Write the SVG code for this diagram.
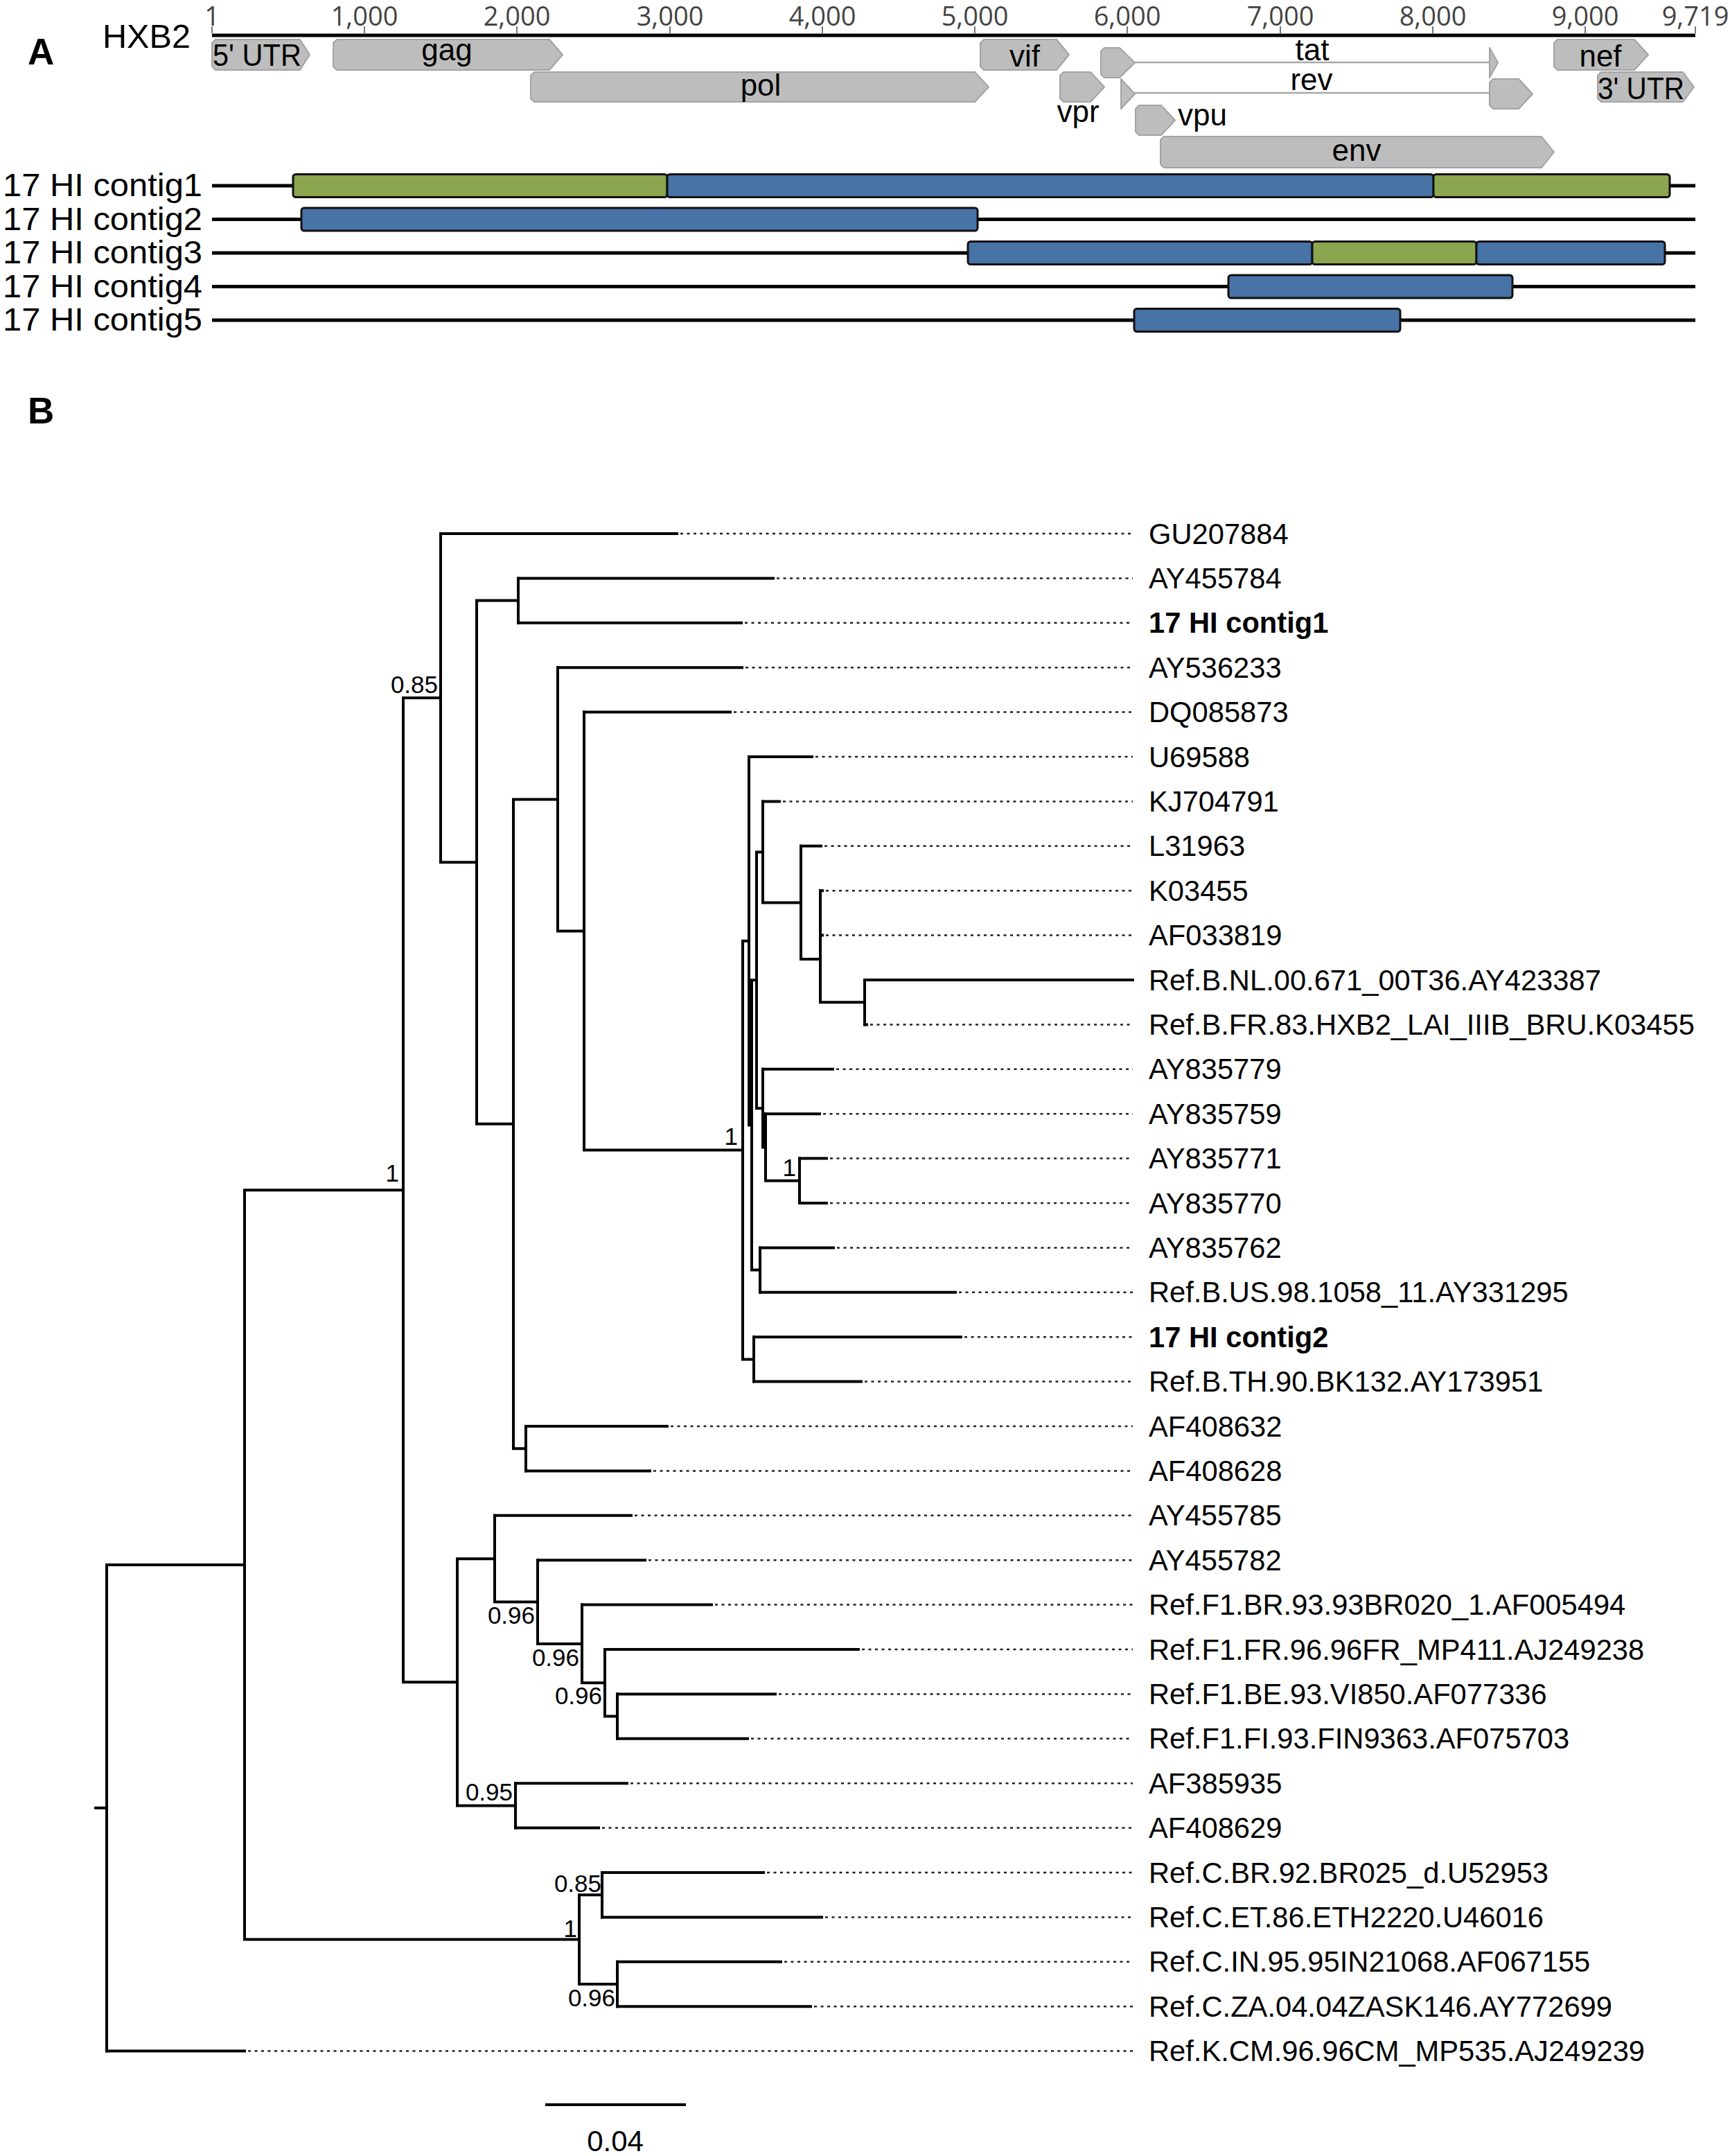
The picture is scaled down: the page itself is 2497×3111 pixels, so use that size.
<svg xmlns="http://www.w3.org/2000/svg" width="2497" height="3111" viewBox="0 0 2497 3111">
<style>
text{font-family:"Liberation Sans",Arial,sans-serif;fill:#000}
.panel{font-size:53px;font-weight:bold}
.tick{font-family:"Open Sans","Liberation Sans",sans-serif;font-size:38px;fill:#444;text-anchor:middle}
.tk{stroke:#777;stroke-width:2}
.gene{fill:#bdbdbd;stroke:#a3a3a3;stroke-width:2;stroke-linejoin:round}
.intron{stroke:#a8a8a8;stroke-width:2.5;fill:none}
.glab{font-size:44px;text-anchor:middle}
.cl{font-size:46px}
.track{stroke:#000;stroke-width:5}
.seg{stroke:#111;stroke-width:3}
.g{fill:#8ba64e}
.b{fill:#4773a6}
.br{stroke:#000;stroke-width:4;fill:none;stroke-linecap:square}
.dot{stroke:#222;stroke-width:2.5;stroke-dasharray:4 5.5;fill:none}
.leaf{font-size:41.7px}
.bold{font-weight:bold}
.sup{font-size:35px;text-anchor:end}
</style>

<text class="panel" x="40" y="93">A</text>
<text class="panel" x="40" y="611">B</text>

<!-- Panel A: HXB2 axis -->
<g id="hxb2-axis">
<text x="148" y="69" font-size="48" textLength="127" lengthAdjust="spacingAndGlyphs">HXB2</text>
<line class="track" x1="306" y1="51" x2="2447" y2="51"/>
<g class="tk">
<line x1="306" y1="38" x2="306" y2="48"/>
<line x1="526" y1="38" x2="526" y2="48"/>
<line x1="746" y1="38" x2="746" y2="48"/>
<line x1="967" y1="38" x2="967" y2="48"/>
<line x1="1187" y1="38" x2="1187" y2="48"/>
<line x1="1407" y1="38" x2="1407" y2="48"/>
<line x1="1627" y1="38" x2="1627" y2="48"/>
<line x1="1848" y1="38" x2="1848" y2="48"/>
<line x1="2068" y1="38" x2="2068" y2="48"/>
<line x1="2288" y1="38" x2="2288" y2="48"/>
<line x1="2447" y1="38" x2="2447" y2="48"/>
</g>
<text class="tick" x="306" y="37">1</text>
<text class="tick" x="526" y="37">1,000</text>
<text class="tick" x="746" y="37">2,000</text>
<text class="tick" x="967" y="37">3,000</text>
<text class="tick" x="1187" y="37">4,000</text>
<text class="tick" x="1407" y="37">5,000</text>
<text class="tick" x="1627" y="37">6,000</text>
<text class="tick" x="1848" y="37">7,000</text>
<text class="tick" x="2068" y="37">8,000</text>
<text class="tick" x="2288" y="37">9,000</text>
<text class="tick" x="2447" y="37">9,719</text>
</g>

<g id="gene-5utr"><polygon class="gene" points="311,57 433,57 447,79 433,101 311,101 306,96 306,62"/><text x="307" y="95" font-size="44" textLength="128" lengthAdjust="spacingAndGlyphs">5' UTR</text></g>
<g id="gene-gag"><polygon class="gene" points="486,57 793,57 812,79 793,101 486,101 481,96 481,62"/><text class="glab" x="645" y="87">gag</text></g>
<g id="gene-pol"><polygon class="gene" points="771,104 1407,104 1427,125.5 1407,147 771,147 766,142 766,109"/><text class="glab" x="1098" y="138">pol</text></g>
<g id="gene-vif"><polygon class="gene" points="1420,57 1525,57 1543,79 1525,101 1420,101 1415,96 1415,62"/><text class="glab" x="1479" y="96">vif</text></g>
<g id="gene-vpr"><polygon class="gene" points="1535,104 1574,104 1594,125.5 1574,147 1535,147 1530,142 1530,109"/><text class="glab" x="1556" y="176">vpr</text></g>
<g id="gene-tat"><line class="intron" x1="1638" y1="90" x2="2150" y2="90"/><polygon class="gene" points="1594,69 1616,69 1638,90.5 1616,112 1594,112 1589,107 1589,74"/><polygon class="gene" points="2150,69 2162,90.5 2150,112"/><text class="glab" x="1894" y="87">tat</text></g>
<g id="gene-rev"><line class="intron" x1="1638" y1="134" x2="2150" y2="134"/><polygon class="gene" points="1618,114 1638,135.5 1618,157"/><polygon class="gene" points="2155,114 2192,114 2212,135.5 2192,157 2155,157 2150,152 2150,119"/><text class="glab" x="1893" y="130">rev</text></g>
<g id="gene-vpu"><polygon class="gene" points="1644,152 1676,152 1696,173.5 1676,195 1644,195 1639,190 1639,157"/><text x="1700" y="181" font-size="44">vpu</text></g>
<g id="gene-env"><polygon class="gene" points="1680,197 2225,197 2243,219.5 2225,242 1680,242 1675,237 1675,202"/><text class="glab" x="1958" y="232">env</text></g>
<g id="gene-nef"><polygon class="gene" points="2248,57 2359,57 2379,79 2359,101 2248,101 2243,96 2243,62"/><text class="glab" x="2310" y="96">nef</text></g>
<g id="gene-3utr"><polygon class="gene" points="2311,104 2429,104 2445,125.5 2429,147 2311,147 2306,142 2306,109"/><text x="2306" y="143" font-size="44" textLength="125" lengthAdjust="spacingAndGlyphs">3' UTR</text></g>

<!-- Contigs -->
<g id="contig1-track">
<text class="cl" x="4" y="283" textLength="288" lengthAdjust="spacingAndGlyphs">17 HI contig1</text>
<line class="track" x1="306" y1="268" x2="2447" y2="268"/>
<rect class="seg g" x="423" y="251.5" width="540" height="33" rx="4"/>
<rect class="seg b" x="963" y="251.5" width="1106" height="33" rx="4"/>
<rect class="seg g" x="2069" y="251.5" width="341" height="33" rx="4"/>
</g>
<g id="contig2-track">
<text class="cl" x="4" y="331.5" textLength="288" lengthAdjust="spacingAndGlyphs">17 HI contig2</text>
<line class="track" x1="306" y1="316.5" x2="2447" y2="316.5"/>
<rect class="seg b" x="435" y="300" width="976" height="33" rx="4"/>
</g>
<g id="contig3-track">
<text class="cl" x="4" y="380" textLength="288" lengthAdjust="spacingAndGlyphs">17 HI contig3</text>
<line class="track" x1="306" y1="365" x2="2447" y2="365"/>
<rect class="seg b" x="1397" y="348.5" width="497" height="33" rx="4"/>
<rect class="seg g" x="1894" y="348.5" width="237" height="33" rx="4"/>
<rect class="seg b" x="2131" y="348.5" width="272" height="33" rx="4"/>
</g>
<g id="contig4-track">
<text class="cl" x="4" y="428.5" textLength="288" lengthAdjust="spacingAndGlyphs">17 HI contig4</text>
<line class="track" x1="306" y1="413.5" x2="2447" y2="413.5"/>
<rect class="seg b" x="1773" y="397" width="410" height="33" rx="4"/>
</g>
<g id="contig5-track">
<text class="cl" x="4" y="477" textLength="288" lengthAdjust="spacingAndGlyphs">17 HI contig5</text>
<line class="track" x1="306" y1="462" x2="2447" y2="462"/>
<rect class="seg b" x="1637" y="445.5" width="384" height="33" rx="4"/>
</g>

<!-- Panel B: tree branches -->
<g id="branches">
<path class="br" d="M138,2608.75H154M154,2257.9V2959.6
M154,2257.9H353M353,1717.2V2798.6
M353,1717.2H582M582,1007.1V2427.3
M353,2798.6H836M836,2734.2V2863
M582,1007.1H636M636,770V1244.2
M582,2427.3H660M660,2249.2V2605.4
M636,1244.2H688M688,866.6V1621.8
M688,866.6H748M748,834.4V898.8
M688,1621.8H741M741,1153.4V2090.2
M741,1153.4H805M805,963.2V1343.6
M741,2090.2H759M759,2058V2122.4
M805,1343.6H843M843,1027.6V1659.6
M843,1659.6H1072M1072,1357.7V1961.4
M1072,1357.7H1081M1081,1092V1623.5
M1072,1961.4H1088M1088,1929.2V1993.6
M1081,1623.5H1085M1085,1414.3V1832.6
M1085,1414.3H1092M1092,1229.4V1599.2
M1085,1832.6H1097M1097,1800.4V1864.8
M1092,1229.4H1101M1101,1156.4V1302.4
M1092,1599.2H1101M1101,1542.8V1655.5
M1101,1302.4H1156M1156,1220.8V1384
M1156,1384H1184M1184,1285.2V1446.2
M1184,1446.2H1248M1248,1414V1478.4
M1101,1655.5H1105M1105,1607.2V1703.8
M1105,1703.8H1154M1154,1671.6V1736
M660,2249.2H714M714,2186.8V2311.6
M660,2605.4H744M744,2573.2V2637.6
M714,2311.6H776M776,2251.2V2372
M776,2372H840M840,2315.6V2428.3
M840,2428.3H873M873,2380V2476.6
M873,2476.6H891M891,2444.4V2508.8
M836,2734.2H869M869,2702V2766.4
M836,2863H891M891,2830.8V2895.2"/>
<path class="br" d="M636,770H977M748,834.4H1116M748,898.8H1070M805,963.2H1071M843,1027.6H1054
M1081,1092H1172M1101,1156.4H1125M1156,1220.8H1185M1184,1285.2H1187M1184,1349.6H1187
M1248,1414H1635M1248,1478.4H1251M1101,1542.8H1202M1105,1607.2H1183M1154,1671.6H1193
M1154,1736H1193M1097,1800.4H1203M1097,1864.8H1379M1088,1929.2H1387M1088,1993.6H1243
M759,2058H963M759,2122.4H938M714,2186.8H911M776,2251.2H931M840,2315.6H1027
M873,2380H1239M891,2444.4H1119M891,2508.8H1079M744,2573.2H905M744,2637.6H864
M869,2702H1102M869,2766.4H1186M891,2830.8H1127M891,2895.2H1170M154,2959.6H353"/>
<path class="dot" d="M982,770H1635M1121,834.4H1635M1075,898.8H1635M1076,963.2H1635M1059,1027.6H1635
M1177,1092H1635M1130,1156.4H1635M1190,1220.8H1635M1192,1285.2H1635M1192,1349.6H1635
M1256,1478.4H1635M1207,1542.8H1635M1188,1607.2H1635M1198,1671.6H1635
M1198,1736H1635M1208,1800.4H1635M1384,1864.8H1635M1392,1929.2H1635M1248,1993.6H1635
M968,2058H1635M943,2122.4H1635M916,2186.8H1635M936,2251.2H1635M1032,2315.6H1635
M1244,2380H1635M1124,2444.4H1635M1084,2508.8H1635M910,2573.2H1635M869,2637.6H1635
M1107,2702H1635M1191,2766.4H1635M1132,2830.8H1635M1175,2895.2H1635M358,2959.6H1635"/>
</g>

<g id="support-values">
<text class="sup" x="632" y="1000">0.85</text>
<text class="sup" x="576" y="1705">1</text>
<text class="sup" x="1065" y="1652">1</text>
<text class="sup" x="1149" y="1697">1</text>
<text class="sup" x="772" y="2343">0.96</text>
<text class="sup" x="836" y="2404">0.96</text>
<text class="sup" x="869" y="2459">0.96</text>
<text class="sup" x="740" y="2598">0.95</text>
<text class="sup" x="833" y="2795">1</text>
<text class="sup" x="868" y="2730">0.85</text>
<text class="sup" x="888" y="2895">0.96</text>
</g>

<g id="leaf-labels">
<g id="leaf-GU207884"><text class="leaf" x="1658" y="784.5">GU207884</text></g>
<g id="leaf-AY455784"><text class="leaf" x="1658" y="848.9">AY455784</text></g>
<g id="leaf-contig1"><text class="leaf bold" x="1658" y="913.3">17 HI contig1</text></g>
<g id="leaf-AY536233"><text class="leaf" x="1658" y="977.7">AY536233</text></g>
<g id="leaf-DQ085873"><text class="leaf" x="1658" y="1042.1">DQ085873</text></g>
<g id="leaf-U69588"><text class="leaf" x="1658" y="1106.5">U69588</text></g>
<g id="leaf-KJ704791"><text class="leaf" x="1658" y="1170.9">KJ704791</text></g>
<g id="leaf-L31963"><text class="leaf" x="1658" y="1235.3">L31963</text></g>
<g id="leaf-K03455"><text class="leaf" x="1658" y="1299.7">K03455</text></g>
<g id="leaf-AF033819"><text class="leaf" x="1658" y="1364.1">AF033819</text></g>
<g id="leaf-RefBNL"><text class="leaf" x="1658" y="1428.5">Ref.B.NL.00.671_00T36.AY423387</text></g>
<g id="leaf-RefBFR"><text class="leaf" x="1658" y="1492.9">Ref.B.FR.83.HXB2_LAI_IIIB_BRU.K03455</text></g>
<g id="leaf-AY835779"><text class="leaf" x="1658" y="1557.3">AY835779</text></g>
<g id="leaf-AY835759"><text class="leaf" x="1658" y="1621.7">AY835759</text></g>
<g id="leaf-AY835771"><text class="leaf" x="1658" y="1686.1">AY835771</text></g>
<g id="leaf-AY835770"><text class="leaf" x="1658" y="1750.5">AY835770</text></g>
<g id="leaf-AY835762"><text class="leaf" x="1658" y="1814.9">AY835762</text></g>
<g id="leaf-RefBUS"><text class="leaf" x="1658" y="1879.3">Ref.B.US.98.1058_11.AY331295</text></g>
<g id="leaf-contig2"><text class="leaf bold" x="1658" y="1943.7">17 HI contig2</text></g>
<g id="leaf-RefBTH"><text class="leaf" x="1658" y="2008.1">Ref.B.TH.90.BK132.AY173951</text></g>
<g id="leaf-AF408632"><text class="leaf" x="1658" y="2072.5">AF408632</text></g>
<g id="leaf-AF408628"><text class="leaf" x="1658" y="2136.9">AF408628</text></g>
<g id="leaf-AY455785"><text class="leaf" x="1658" y="2201.3">AY455785</text></g>
<g id="leaf-AY455782"><text class="leaf" x="1658" y="2265.7">AY455782</text></g>
<g id="leaf-RefF1BR"><text class="leaf" x="1658" y="2330.1">Ref.F1.BR.93.93BR020_1.AF005494</text></g>
<g id="leaf-RefF1FR"><text class="leaf" x="1658" y="2394.5">Ref.F1.FR.96.96FR_MP411.AJ249238</text></g>
<g id="leaf-RefF1BE"><text class="leaf" x="1658" y="2458.9">Ref.F1.BE.93.VI850.AF077336</text></g>
<g id="leaf-RefF1FI"><text class="leaf" x="1658" y="2523.3">Ref.F1.FI.93.FIN9363.AF075703</text></g>
<g id="leaf-AF385935"><text class="leaf" x="1658" y="2587.7">AF385935</text></g>
<g id="leaf-AF408629"><text class="leaf" x="1658" y="2652.1">AF408629</text></g>
<g id="leaf-RefCBR"><text class="leaf" x="1658" y="2716.5">Ref.C.BR.92.BR025_d.U52953</text></g>
<g id="leaf-RefCET"><text class="leaf" x="1658" y="2780.9">Ref.C.ET.86.ETH2220.U46016</text></g>
<g id="leaf-RefCIN"><text class="leaf" x="1658" y="2845.3">Ref.C.IN.95.95IN21068.AF067155</text></g>
<g id="leaf-RefCZA"><text class="leaf" x="1658" y="2909.7">Ref.C.ZA.04.04ZASK146.AY772699</text></g>
<g id="leaf-RefK"><text class="leaf" x="1658" y="2974.1">Ref.K.CM.96.96CM_MP535.AJ249239</text></g>
</g>

<g id="scale-bar">
<line x1="787" y1="3037" x2="990" y2="3037" stroke="#000" stroke-width="4"/>
<text x="888" y="3104" font-size="42" text-anchor="middle">0.04</text>
</g>
</svg>
